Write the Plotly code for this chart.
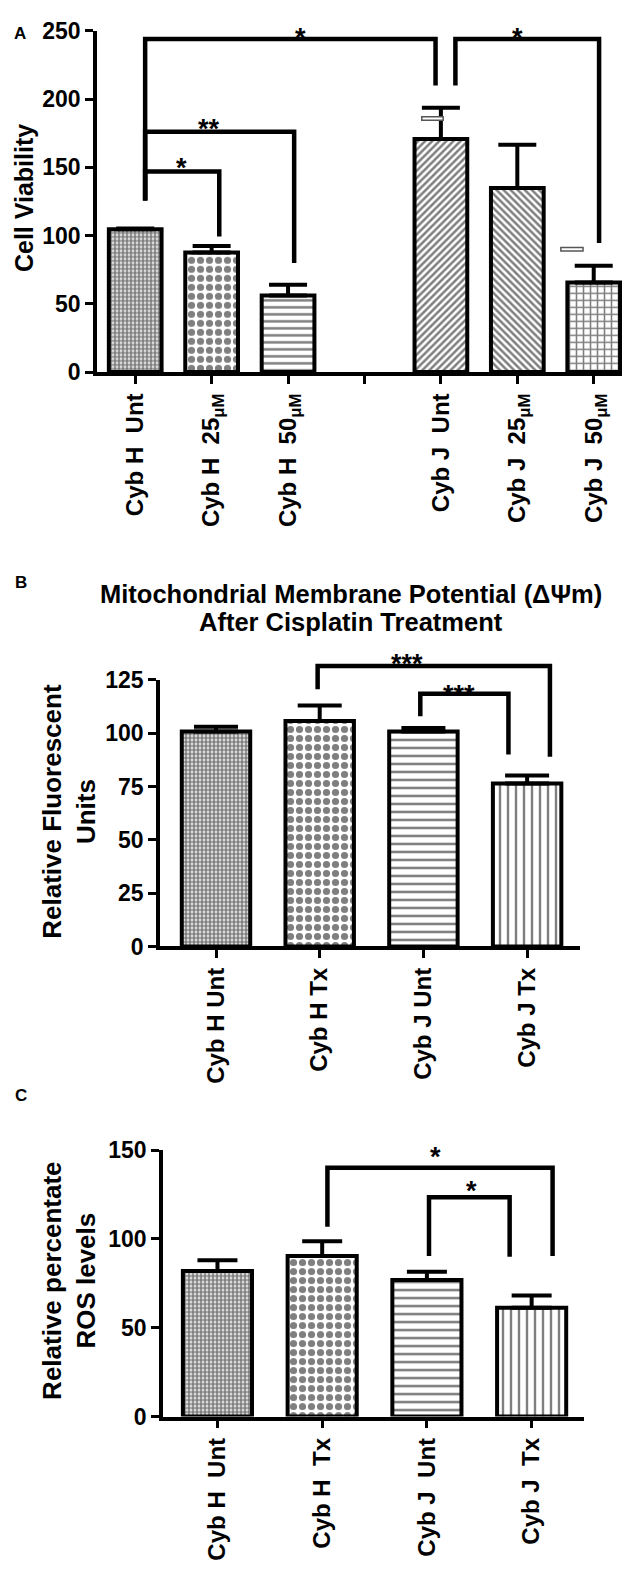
import plotly.graph_objects as go

W, H = 630, 1578

# ---- panel A: cell viability ----
cats_h = ["Cyb H  Unt", "Cyb H  25<sub>μM</sub>", "Cyb H  50<sub>μM</sub>"]
cats_j = ["Cyb J  Unt", "Cyb J  25<sub>μM</sub>", "Cyb J  50<sub>μM</sub>"]
viab_mean = [104.6, 87.6, 56.1, 170.8, 134.8, 65.7]
viab_err = [0.6, 4.8, 7.9, 22.8, 31.7, 12.3]
viab_ticks = [0, 50, 100, 150, 200, 250]
# brackets: left x, right x, level, left leg end, right leg end
brk_a = [(0.13, 3.93, 244, 125.7, 210), (4.19, 6.07, 244, 210, 94.5),
         (0.13, 2.08, 176, 125.7, 80), (0.13, 1.1, 147, 125.7, 99.3)]
stars_a = [(2.16, 250, "*"), (5.0, 250, "*"), (0.96, 183, "**"), (0.6, 155, "*")]

# ---- panel B: mitochondrial membrane potential ----
cats_b = ["Cyb H Unt", "Cyb H Tx", "Cyb J Unt", "Cyb J Tx"]
mmp_mean = [100.8, 105.8, 100.8, 76.4]
mmp_err = [2.2, 7.2, 1.7, 3.8]
mmp_ticks = [0, 25, 50, 75, 100, 125]
brk_b = [(0.98, 3.22, 131.5, 120.7, 89), (1.97, 2.82, 118.5, 108, 90)]
stars_b = [(1.84, 135.6, "***"), (2.34, 121, "***")]

# ---- panel C: ROS ----
cats_c = ["Cyb H  Unt", "Cyb H  Tx", "Cyb J  Unt", "Cyb J  Tx"]
ros_mean = [82.0, 90.4, 76.9, 61.3]
ros_err = [6.0, 8.3, 4.6, 6.8]
ros_ticks = [0, 50, 100, 150]
brk_c = [(1.05, 3.2, 140, 106.8, 90.4), (2.02, 2.79, 123.5, 90.4, 90)]
stars_c = [(2.08, 150, "*"), (2.43, 131, "*")]

FONT = "Liberation Sans"

# subplot boxes in pixels (left, right, top, bottom)
box_a = (89, 627, 10, 357)
box_b = (152, 572, 670, 941)
box_c = (155, 576, 1148, 1419)
b_top_extra = 600  # helper area above panel B for brackets


def px_x(a, b):
    return [a / W, b / W]


def px_y(top, bottom):
    return [1 - bottom / H, 1 - top / H]


fig = go.Figure()

pat_a = dict(shape=[".", ".", "-", "/", "\\", "+"], size=[4, 9, 7, 5, 5, 7],
             solidity=[0.7, 0.5, 0.36, 0.5, 0.5, 0.4], fgcolor="black", bgcolor="white")
pat_bc = dict(shape=[".", ".", "-", "|"], size=[4, 9, 8, 8],
              solidity=[0.7, 0.5, 0.32, 0.3], fgcolor="black", bgcolor="white")

pos_a = [i for i in range(len(cats_h))] + [i + len(cats_h) + 1 for i in range(len(cats_j))]

panels = [
    ("x", "y", "x", "y", pos_a, viab_mean, viab_err, pat_a, 0.69, 19, brk_a, 4.5),
    ("x2", "y2", "x4", "y4", list(range(len(cats_b))), mmp_mean, mmp_err, pat_bc, 0.66, 22, brk_b, 4.5),
    ("x3", "y3", "x3", "y3", list(range(len(cats_c))), ros_mean, ros_err, pat_bc, 0.66, 20, brk_c, 4.5),
]

for xa, ya, bxa, bya, xs, ys, es, pat, bw, cap, brks, lw in panels:
    fig.add_trace(go.Bar(
        x=xs, y=ys, xaxis=xa, yaxis=ya, width=bw,
        marker=dict(color="white", line=dict(color="black", width=4), pattern=pat),
        error_y=dict(type="data", symmetric=False, array=es, arrayminus=[0] * len(es),
                     color="black", thickness=4, width=cap),
    ))
    for xl, xr, lev, lb, rb in brks:
        fig.add_trace(go.Scatter(
            x=[xl, xl, xr, xr], y=[lb, lev, lev, rb], xaxis=bxa, yaxis=bya,
            mode="lines", line=dict(color="black", width=lw), cliponaxis=False,
            hoverinfo="skip",
        ))

axis_common = dict(showline=True, linecolor="black", linewidth=3.5, ticks="outside",
                   tickcolor="black", tickwidth=3, ticklen=8, showgrid=False, zeroline=False,
                   tickfont=dict(family=FONT, size=23, color="black", weight="bold"))
xfont = dict(family=FONT, size=24, color="black", weight="bold")

range_b = [-0.54, 3.51]
ymax_b = 125
fig.update_layout(
    width=W, height=H, margin=dict(l=0, r=0, t=0, b=0),
    paper_bgcolor="white", plot_bgcolor="rgba(0,0,0,0)", showlegend=False,
    xaxis=dict(domain=px_x(box_a[0], box_a[1]), range=[-0.5, 6.54], anchor="y",
               tickvals=list(range(len(cats_h) + len(cats_j) + 1)),
               ticktext=cats_h + [""] + cats_j, tickangle=-90, **axis_common),
    yaxis=dict(domain=px_y(box_a[2], box_a[3]), range=[0, 250], anchor="x", tickvals=viab_ticks,
               **axis_common),
    xaxis2=dict(domain=px_x(box_b[0], box_b[1]), range=range_b, anchor="y2",
                tickvals=list(range(len(cats_b))), ticktext=cats_b, tickangle=-90,
                **axis_common),
    yaxis2=dict(domain=px_y(box_b[2], box_b[3]), range=[0, ymax_b], anchor="x2",
                tickvals=mmp_ticks, **axis_common),
    xaxis3=dict(domain=px_x(box_c[0], box_c[1]), range=[-0.52, 3.5], anchor="y3",
                tickvals=list(range(len(cats_c))), ticktext=cats_c, tickangle=-90,
                **axis_common),
    yaxis3=dict(domain=px_y(box_c[2], box_c[3]), range=[0, 150], anchor="x3", tickvals=ros_ticks,
                **axis_common),
    # invisible helper axes on the same scale as panel B, taller, so brackets above 125 show
    xaxis4=dict(domain=px_x(box_b[0], box_b[1]), range=range_b, anchor="y4", visible=False),
    yaxis4=dict(domain=px_y(b_top_extra, box_b[3]),
                range=[0, ymax_b * (box_b[3] - b_top_extra) / (box_b[3] - box_b[2])],
                anchor="x4", visible=False),
)
fig.update_xaxes(tickfont=xfont, selector=dict(tickangle=-90))

# small hollow marks drawn in panel A
for x0, x1, y0, y1 in [(3.75, 4.03, 184.5, 187.0), (5.57, 5.86, 88.8, 91.2)]:
    fig.add_shape(type="rect", xref="x", yref="y", x0=x0, x1=x1, y0=y0, y1=y1,
                  line=dict(color="#555555", width=1.5), fillcolor="white")

# significance stars
for xr, yr, stars in [("x", "y", stars_a), ("x4", "y4", stars_b), ("x3", "y3", stars_c)]:
    for sx, sy, txt in stars:
        fig.add_annotation(x=sx, y=sy, xref=xr, yref=yr, text=txt, showarrow=False,
                           yanchor="middle", yshift=-7,
                           font=dict(family=FONT, size=27, color="black", weight="bold"))

# titles and panel letters
bold = dict(family=FONT, color="black", weight="bold")
texts = [
    (12, 13, "A", 17, 0),
    (13, 571, "B", 17, 0),
    (13, 1093, "C", 17, 0),
    (16, 180, "Cell Viability", 25, -90),
    (61, 804, "Relative Fluorescent<br>Units", 26, -90),
    (61, 1281, "Relative percentate<br>ROS levels", 26, -90),
    (343, 583, "Mitochondrial Membrane Potential (ΔΨm)", 25.5, 0),
    (343, 611, "After Cisplatin Treatment", 25.5, 0),
]
for px, py, txt, sz, ang in texts:
    fig.add_annotation(x=px / W, y=1 - py / H, xref="paper", yref="paper", text=txt,
                       showarrow=False, xanchor="center", yanchor="middle", textangle=ang,
                       font=dict(size=sz, **bold))

fig.write_html("out.html")
